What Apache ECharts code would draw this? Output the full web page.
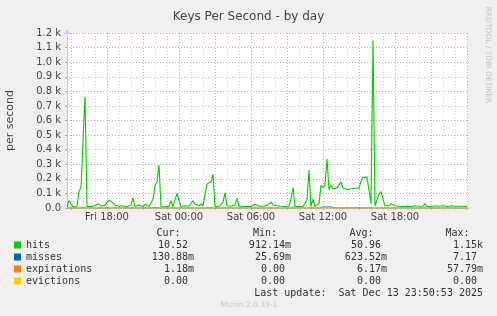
<!DOCTYPE html>
<html>
<head>
<meta charset="utf-8">
<script src="https://cdn.jsdelivr.net/npm/echarts@6/dist/echarts.min.js"></script>
<style>
html,body{margin:0;padding:0;background:#F0F0F0;}
#c{width:497px;height:316px;}
</style>
</head>
<body>
<div id="c"></div>
<script>
// ---- data (10-minute samples, Fri 14:40 -> Sun 00:00) ----
const seriesNames = ['hits', 'misses', 'expirations', 'evictions'];
const seriesColors = ['#00CC00', '#0066B3', '#FF8000', '#FFCC00'];
const tickLabels = ['Fri 18:00', 'Sat 00:00', 'Sat 06:00', 'Sat 12:00', 'Sat 18:00'];
const yTickLabels = ['0.0', '0.1 k', '0.2 k', '0.3 k', '0.4 k', '0.5 k', '0.6 k', '0.7 k', '0.8 k', '0.9 k', '1.0 k', '1.1 k', '1.2 k'];

const hits = [
  10, 50, 28, 10, 8, 12, 115, 140, 150, 763,
  10, 8, 10, 12, 15, 20, 28, 12, 15, 18,
  25, 55, 65, 35, 20, 25, 12, 10, 15, 10,
  8, 12, 20, 70, 10, 12, 20, 15, 10, 25,
  12, 10, 15, 60, 150, 180, 295, 10, 12, 8,
  20, 12, 50, 10, 15, 100, 105, 10, 12, 15,
  10, 12, 20, 50, 25, 25, 15, 30, 15, 90,
  165, 175, 180, 232, 10, 12, 10, 15, 40, 105,
  15, 10, 12, 15, 20, 66, 12, 10, 12, 8,
  10, 12, 10, 15, 25, 20, 12, 15, 12, 20,
  18, 25, 40, 20, 12, 15, 10, 12, 15, 10,
  8, 12, 60, 142, 10, 8, 10, 8, 10, 12,
  55, 260, 10, 60, 10, 8, 30, 155, 140, 160,
  336, 125, 158, 130, 140, 138, 140, 180, 135, 130,
  128, 132, 130, 132, 135, 130, 135, 185, 210, 215,
  212, 205, 30, 1150, 15, 20, 95, 112, 105, 15,
  12, 15, 30, 18, 15, 20, 12, 18, 10, 15,
  12, 18, 10, 12, 15, 10, 12, 15, 12, 30,
  10, 12, 10, 12, 15, 10, 12, 10, 15, 12,
  10, 12, 15, 10, 12, 15, 12, 25, 12, 15,
  10
];
const misses = [
  0.3, 0.2, 0.3, 0.2, 0.3, 0.4, 0.5, 0.6, 1.2, 6.5,
  0.3, 0.2, 0.3, 0.2, 0.3, 0.2, 0.3, 0.2, 0.3, 0.2,
  0.3, 0.4, 0.3, 0.2, 0.3, 0.2, 0.3, 0.2, 0.3, 0.2,
  0.3, 0.2, 0.3, 0.4, 0.3, 0.2, 0.3, 0.2, 0.3, 0.2,
  0.3, 0.2, 0.3, 0.4, 4.5, 0.8, 0.6, 0.3, 0.2, 0.3,
  0.2, 0.3, 0.2, 0.3, 0.2, 0.4, 0.5, 0.3, 0.2, 0.3,
  0.2, 0.3, 0.2, 0.3, 0.2, 0.3, 0.2, 0.3, 0.4, 4.8,
  0.8, 0.7, 0.6, 0.6, 0.3, 0.2, 0.3, 0.2, 0.3, 0.4,
  0.3, 0.2, 0.3, 0.2, 0.3, 0.3, 0.2, 0.3, 0.2, 0.3,
  0.2, 0.3, 0.2, 0.3, 0.2, 0.3, 0.2, 0.3, 0.2, 0.3,
  0.2, 0.3, 0.3, 0.2, 0.3, 0.2, 0.3, 0.2, 0.3, 0.2,
  0.3, 0.2, 0.3, 0.5, 0.3, 0.2, 0.3, 0.2, 0.3, 0.2,
  0.3, 0.6, 0.3, 0.4, 0.3, 0.2, 0.5, 6.8, 7.17, 6.9,
  7.0, 6.6, 6.8, 6.5, 0.9, 0.8, 0.8, 0.9, 0.8, 0.8,
  0.8, 0.8, 0.8, 0.8, 0.8, 0.8, 0.8, 0.9, 1.0, 1.0,
  1.0, 1.0, 0.4, 5.2, 0.3, 0.3, 0.5, 0.6, 0.5, 0.3,
  0.2, 0.3, 0.2, 0.3, 0.2, 0.3, 0.2, 0.3, 0.2, 0.3,
  0.2, 0.3, 0.2, 0.3, 0.2, 0.3, 0.2, 0.3, 0.2, 0.3,
  0.2, 0.3, 0.2, 0.3, 0.2, 0.3, 0.2, 0.3, 0.2, 0.3,
  0.2, 0.3, 0.2, 0.3, 0.2, 0.3, 0.2, 0.3, 0.2, 0.13,
  0.13
];
const expirations = [
  0, 0, 0, 0, 0, 0, 0, 0, 0, 0.05,
  0, 0, 0, 0, 0, 0, 0, 0, 0, 0,
  0, 0, 0, 0, 0, 0, 0, 0, 0, 0,
  0, 0, 0, 0, 0, 0, 0, 0, 0, 0,
  0, 0, 0, 0, 0.03, 0, 0, 0, 0, 0,
  0, 0, 0, 0, 0, 0, 0, 0, 0, 0,
  0, 0, 0, 0, 0, 0, 0, 0, 0, 0.02,
  0, 0, 0, 0, 0, 0, 0, 0, 0, 0,
  0, 0, 0, 0, 0, 0, 0, 0, 0, 0,
  0, 0, 0, 0, 0, 0, 0, 0, 0, 0,
  0, 0, 0, 0, 0, 0, 0, 0, 0, 0,
  0, 0, 0, 0, 0, 0, 0, 0, 0, 0,
  0, 0.02, 0, 0, 0, 0, 0, 0.04, 0.058, 0.03,
  0.03, 0, 0, 0, 0, 0, 0, 0, 0, 0,
  0, 0, 0, 0, 0, 0, 0, 0, 0, 0,
  0, 0, 0, 0.05, 0, 0, 0, 0, 0, 0,
  0, 0, 0, 0, 0, 0, 0, 0, 0, 0,
  0, 0, 0, 0, 0, 0, 0, 0, 0, 0,
  0, 0, 0, 0, 0, 0, 0, 0, 0, 0,
  0, 0, 0, 0, 0, 0, 0, 0, 0, 0.00118,
  0.00118
];
const evictions = [
  0, 0, 0, 0, 0, 0, 0, 0, 0, 0,
  0, 0, 0, 0, 0, 0, 0, 0, 0, 0,
  0, 0, 0, 0, 0, 0, 0, 0, 0, 0,
  0, 0, 0, 0, 0, 0, 0, 0, 0, 0,
  0, 0, 0, 0, 0, 0, 0, 0, 0, 0,
  0, 0, 0, 0, 0, 0, 0, 0, 0, 0,
  0, 0, 0, 0, 0, 0, 0, 0, 0, 0,
  0, 0, 0, 0, 0, 0, 0, 0, 0, 0,
  0, 0, 0, 0, 0, 0, 0, 0, 0, 0,
  0, 0, 0, 0, 0, 0, 0, 0, 0, 0,
  0, 0, 0, 0, 0, 0, 0, 0, 0, 0,
  0, 0, 0, 0, 0, 0, 0, 0, 0, 0,
  0, 0, 0, 0, 0, 0, 0, 0, 0, 0,
  0, 0, 0, 0, 0, 0, 0, 0, 0, 0,
  0, 0, 0, 0, 0, 0, 0, 0, 0, 0,
  0, 0, 0, 0, 0, 0, 0, 0, 0, 0,
  0, 0, 0, 0, 0, 0, 0, 0, 0, 0,
  0, 0, 0, 0, 0, 0, 0, 0, 0, 0,
  0, 0, 0, 0, 0, 0, 0, 0, 0, 0,
  0, 0, 0, 0, 0, 0, 0, 0, 0, 0,
  0
];
const statHeaders = ['Cur:', 'Min:', 'Avg:', 'Max:'];
const statCur = ['10.52 ', '130.88m', '1.18m', '0.00 '];
const statMin = ['912.14m', '25.69m', '0.00 ', '0.00 '];
const statAvg = ['50.96 ', '623.52m', '6.17m', '0.00 '];
const statMax = ['1.15k', '7.17 ', '57.79m', '0.00 '];
const lastUpdate = 'Last update:  Sat Dec 13 23:50:53 2025';
const versionText = 'Munin 2.0.33-1';

// category (time) labels, 10 minute steps from Fri 14:40
const categories = [];
(function () {
  const dayNames = ['Fri', 'Sat', 'Sun'];
  const pad = n => (n < 10 ? '0' : '') + n;
  for (let i = 0; i < hits.length; i++) {
    const m = 14 * 60 + 40 + i * 10;
    const d = Math.floor(m / 1440), mm = m % 1440;
    categories.push(dayNames[d] + ' ' + pad(Math.floor(mm / 60)) + ':' + pad(mm % 60));
  }
})();
const isHour = v => v.slice(-2) === '00';
const hourOf = v => parseInt(v.slice(4, 6), 10);
const isMajor = v => isHour(v) && hourOf(v) % 3 === 0;

// ---- chart ----
const chart = echarts.init(document.getElementById('c'));
const mono = '"DejaVu Sans Mono", monospace';
const sans = '"DejaVu Sans", sans-serif';
const rowY = [245, 257, 269, 281];
const colRight = [194, 291, 387, 483];
const headRight = [180.5, 277, 373.5, 469.5];
const statCols = [statCur, statMin, statAvg, statMax];
const graphics = [];
statHeaders.forEach((h, c) => {
  graphics.push({type: 'text', x: headRight[c], y: 233, style: {text: h, font: '10px ' + mono, fill: '#333', textAlign: 'right', textVerticalAlign: 'middle'}});
  statCols[c].forEach((t, r) => {
    graphics.push({type: 'text', x: colRight[c], y: rowY[r], style: {text: t, font: '10px ' + mono, fill: '#333', textAlign: 'right', textVerticalAlign: 'middle'}});
  });
});
graphics.push({type: 'text', x: 483, y: 293, style: {text: lastUpdate, font: '10px ' + mono, fill: '#333', textAlign: 'right', textVerticalAlign: 'middle'}});
graphics.push({type: 'text', x: 249, y: 305, style: {text: versionText, font: '7.5px ' + sans, fill: '#c8c8c8', textAlign: 'center', textVerticalAlign: 'middle'}});
graphics.push({type: 'text', x: 488, y: 55, rotation: -Math.PI / 2, style: {text: 'RRDTOOL / TOBI OETIKER', font: '7.5px ' + sans, fill: '#c4c4c4', textAlign: 'center', textVerticalAlign: 'middle'}});

const seriesData = [hits, misses, expirations, evictions];

chart.setOption({
  animation: false,
  backgroundColor: '#F0F0F0',
  title: {
    text: 'Keys Per Second - by day', left: 'center', top: 6,
    textStyle: {fontFamily: sans, fontSize: 12, fontWeight: 'normal', color: '#444'}
  },
  grid: {left: 67, right: 30, top: 33, bottom: 108, show: true, backgroundColor: '#FFFFFF', borderWidth: 0,
         containLabel: false, outerBoundsMode: 'none'},
  legend: {
    orient: 'vertical', left: 14, top: 239, padding: 0, itemGap: 0, itemWidth: 7, itemHeight: 7,
    selectedMode: false, icon: 'rect',
    data: seriesNames.map(n => ({name: n, icon: 'rect'})),
    textStyle: {fontFamily: mono, fontSize: 10, color: '#333', lineHeight: 12, padding: 0}
  },
  xAxis: [
    {
      type: 'category', data: categories, boundaryGap: false, position: 'bottom',
      axisLine: {show: true, lineStyle: {color: '#c8c8f0', width: 1}, symbol: ['none', 'arrow'], symbolSize: [5, 6], symbolOffset: [0, 4]},
      axisTick: {show: true, interval: (i, v) => isHour(v) && !isMajor(v), length: 2, lineStyle: {color: '#d0d0d0'}},
      axisLabel: {interval: (i, v) => tickLabels.indexOf(v) >= 0, color: '#444', fontFamily: sans, fontSize: 10, margin: 4},
      splitLine: {show: true, interval: (i, v) => isHour(v) && !isMajor(v), lineStyle: {color: '#d4d4d4', type: [1, 2], width: 1}}
    },
    {
      type: 'category', data: categories, boundaryGap: false, position: 'bottom',
      axisLine: {show: false},
      axisTick: {show: true, interval: (i, v) => isMajor(v), length: 2, lineStyle: {color: '#e89090'}},
      axisLabel: {show: false},
      splitLine: {show: true, interval: (i, v) => isMajor(v), lineStyle: {color: '#eaa0a0', type: [1, 2], width: 1}}
    }
  ],
  yAxis: {
    type: 'value', min: 0, max: 1200, interval: 100,
    name: 'per second', nameLocation: 'middle', nameRotate: 90, nameGap: 51,
    nameTextStyle: {fontFamily: sans, fontSize: 11, color: '#444'},
    axisLine: {show: true, lineStyle: {color: '#c8c8f0'}, symbol: ['none', 'arrow'], symbolSize: [5, 6], symbolOffset: [0, 4]},
    axisTick: {show: true, length: 2, lineStyle: {color: '#e89090'}},
    axisLabel: {formatter: v => yTickLabels[Math.round(v / 100)], color: '#444', fontFamily: sans, fontSize: 10, margin: 6},
    splitLine: {show: true, lineStyle: {color: '#eaa0a0', type: [1, 2], width: 1}}
  },
  series: seriesNames.map((n, k) => ({
    name: n, type: 'line', data: seriesData[k], xAxisIndex: 0,
    showSymbol: false, symbol: 'none', color: seriesColors[k],
    lineStyle: {width: 1.1, color: seriesColors[k]}, z: 2 + k
  })),
  graphic: graphics
});
</script>
</body>
</html>
